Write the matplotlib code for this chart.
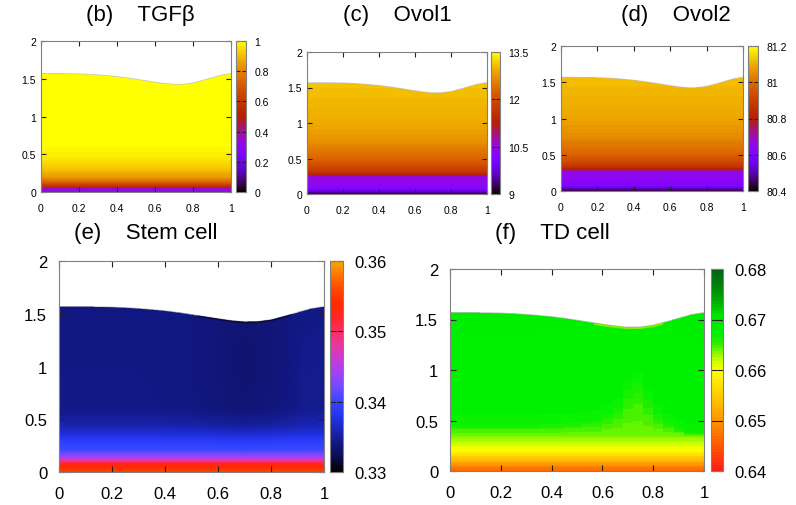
import numpy as np
import matplotlib
matplotlib.use("Agg")
import matplotlib.pyplot as plt
from matplotlib.colors import LinearSegmentedColormap
from matplotlib.patches import Polygon

plt.rcParams['font.family'] = ['Liberation Sans', 'DejaVu Sans']

# ---------------- data ----------------
# upper boundary of the domain
bound_x = [0.0, 0.05, 0.1, 0.15, 0.2, 0.25, 0.3, 0.35, 0.4, 0.45, 0.5,
           0.55, 0.6, 0.65, 0.7, 0.75, 0.8, 0.85, 0.9, 0.95, 1.0]
bound_h = [1.57, 1.57, 1.57, 1.568, 1.565, 1.56, 1.552, 1.542, 1.53, 1.514, 1.495,
           1.475, 1.455, 1.437, 1.426, 1.428, 1.445, 1.478, 1.515, 1.55, 1.57]

# (b) TGF-beta vertical profile
tgf_y = [0, 0.06, 0.07, 0.1, 0.14, 0.2, 0.3, 0.45, 0.6, 2.0]
tgf_v = [0.32, 0.36, 0.56, 0.64, 0.74, 0.84, 0.91, 0.965, 0.99, 1.0]

# (c) Ovol1 vertical profile
ovol1_y = [0, 0.03, 0.07, 0.15, 0.255, 0.275, 0.3, 0.4, 0.5, 0.75, 1.0, 1.5, 2.0]
ovol1_v = [9.15, 9.6, 10.15, 10.4, 10.55, 11.3, 11.6, 12.0, 12.3, 12.72, 12.92, 13.08, 13.12]

# (d) Ovol2 vertical profile
ovol2_y = [0, 0.03, 0.07, 0.15, 0.27, 0.3, 0.33, 0.4, 0.5, 0.75, 1.0, 1.5, 2.0]
ovol2_v = [80.43, 80.5, 80.6, 80.64, 80.66, 80.8, 80.86, 80.92, 80.98, 81.05, 81.09, 81.12, 81.13]

# (e) Stem cell vertical profile and darker zone around x = 0.7
stem_y = [0, 0.03, 0.085, 0.1, 0.13, 0.16, 0.2, 0.29, 0.36, 0.45, 0.6, 2.0]
stem_v = [0.3555, 0.3545, 0.3525, 0.349, 0.3455, 0.343, 0.3405, 0.339, 0.3372, 0.3355, 0.3343, 0.334]
stem_dark_x = [0, 0.3, 0.5, 0.6, 0.7, 0.78, 0.86, 0.92, 1.0]
stem_dark_v = [0, 0, -0.0002, -0.0005, -0.0008, -0.0006, -0.0002, 0.0002, 0.0003]
stem_dark_wy = [0, 0.25, 0.45, 0.8, 1.1, 1.4, 2.0]
stem_dark_w = [0, 0.2, 0.8, 1, 1, 0.7, 0.7]

# (f) TD cell vertical profile and height where green starts, per column
td_y = [0, 0.05, 0.1, 0.15, 0.2, 0.25, 0.3, 0.35, 0.4, 0.45, 2.0]
td_v = [0.6465, 0.649, 0.653, 0.656, 0.6595, 0.6613, 0.6625, 0.6638, 0.665, 0.6668, 0.668]
td_onset = [0.45, 0.45, 0.45, 0.45, 0.45, 0.45, 0.45, 0.45, 0.45, 0.46, 0.46, 0.47,
            0.48, 0.49, 0.50, 0.55, 0.63, 0.80, 0.88, 0.70, 0.55, 0.47, 0.42, 0.37, 0.37]

x_ticks = [0, 0.2, 0.4, 0.6, 0.8, 1.0]
x_tick_labels = ['0', '0.2', '0.4', '0.6', '0.8', '1']
y_ticks = [0, 0.5, 1.0, 1.5, 2.0]
y_tick_labels = ['0', '0.5', '1', '1.5', '2']

cb_b_ticks = [0, 0.2, 0.4, 0.6, 0.8, 1.0]
cb_b_labels = ['0', '0.2', '0.4', '0.6', '0.8', '1']
cb_c_ticks = [9, 10.5, 12, 13.5]
cb_c_labels = ['9', '10.5', '12', '13.5']
cb_d_ticks = [80.4, 80.6, 80.8, 81.0, 81.2]
cb_d_labels = ['80.4', '80.6', '80.8', '81', '81.2']
cb_e_ticks = [0.33, 0.34, 0.35, 0.36]
cb_e_labels = ['0.33', '0.34', '0.35', '0.36']
cb_f_ticks = [0.64, 0.65, 0.66, 0.67, 0.68]
cb_f_labels = ['0.64', '0.65', '0.66', '0.67', '0.68']

titles = ['(b)    TGFβ', '(c)    Ovol1', '(d)    Ovol2', '(e)    Stem cell', '(f)    TD cell']

# ---------------- colormaps ----------------
gnu = plt.get_cmap('gnuplot').resampled(96)

def anchored(name, anchors, vmin, vmax, n):
    pts = [((v - vmin) / (vmax - vmin), tuple(c / 255 for c in col)) for v, col in anchors]
    return LinearSegmentedColormap.from_list(name, pts).resampled(n)

stem_cmap = anchored('stem', [
    (0.330, (0, 0, 0)), (0.332, (12, 12, 75)), (0.334, (17, 23, 128)),
    (0.336, (26, 38, 185)), (0.338, (36, 52, 240)), (0.340, (55, 70, 255)),
    (0.342, (110, 75, 255)), (0.344, (160, 65, 248)), (0.346, (200, 58, 215)),
    (0.348, (232, 55, 160)), (0.350, (250, 45, 100)), (0.352, (255, 38, 40)),
    (0.354, (255, 42, 0)), (0.356, (255, 70, 0)), (0.358, (255, 115, 0)),
    (0.360, (255, 165, 0))], 0.33, 0.36, 256)

td_cmap = anchored('td', [
    (0.640, (255, 30, 20)), (0.645, (255, 90, 0)), (0.650, (255, 150, 0)),
    (0.655, (255, 205, 0)), (0.660, (255, 255, 0)), (0.662, (200, 255, 0)),
    (0.664, (110, 245, 0)), (0.6655, (40, 240, 0)), (0.667, (0, 242, 0)),
    (0.671, (0, 228, 0)), (0.674, (0, 170, 0)), (0.677, (0, 130, 10)),
    (0.680, (0, 100, 20))], 0.64, 0.68, 64)

# ---------------- fields ----------------
xe = np.linspace(0, 1, 201)
ye = np.linspace(0, 2, 401)
xc = 0.5 * (xe[:-1] + xe[1:])
yc = 0.5 * (ye[:-1] + ye[1:])
XC, YC = np.meshgrid(xc, yc)

tgf = np.interp(YC, tgf_y, tgf_v)
ov1 = np.interp(YC, ovol1_y, ovol1_v)
ov2 = np.interp(YC, ovol2_y, ovol2_v)
stem = (np.interp(YC, stem_y, stem_v)
        + np.interp(XC, stem_dark_x, stem_dark_v) * np.interp(YC, stem_dark_wy, stem_dark_w))

xe_td = np.linspace(0, 1, len(td_onset) + 1)
ye_td = np.linspace(0, 2, 161)
xc_td = 0.5 * (xe_td[:-1] + xe_td[1:])
yc_td = 0.5 * (ye_td[:-1] + ye_td[1:])
XT, YT = np.meshgrid(xc_td, yc_td)
ON = np.array(td_onset)[None, :] * np.ones_like(YT)
Yeff = np.where(YT < 0.35, YT,
                np.where(YT < ON, 0.35 + (YT - 0.35) * 0.085 / (ON - 0.35), YT - ON + 0.45))
td = np.interp(Yeff, td_y, td_v)

bx_f = np.linspace(0, 1, 201)
bh_f = np.interp(bx_f, bound_x, bound_h)

# ---------------- figure ----------------
W, H = 796, 506
fig = plt.figure(figsize=(W / 100, H / 100), dpi=100)

def frac(l, t, r, b):
    return [l / W, 1 - b / H, (r - l) / W, (b - t) / H]

def panel(box, cbox, xe_, ye_, Z, cmap, vmin, vmax, cticks, clabels, small):
    ax = fig.add_axes(frac(*box))
    m = ax.pcolormesh(xe_, ye_, Z, cmap=cmap, vmin=vmin, vmax=vmax,
                      shading='flat', antialiased=False, linewidth=0, rasterized=True)
    verts = np.column_stack([np.r_[bx_f, 1.0, 0.0], np.r_[bh_f, 0.0, 0.0]])
    clip = Polygon(verts, closed=True, transform=ax.transData, fc='none', ec='none')
    ax.add_patch(clip)
    m.set_clip_path(clip)
    ax.plot(bx_f, bh_f, color='#c0c0c0', lw=0.5)
    ax.set_xlim(0, 1)
    ax.set_ylim(0, 2)
    ax.set_xticks(x_ticks, x_tick_labels)
    ax.set_yticks(y_ticks, y_tick_labels)
    fs = 7.5 if small else 12
    ax.tick_params(direction='in', top=True, right=True, length=3.5 if small else 4.5,
                   width=0.8, color='#202020', labelsize=fs)
    ax.tick_params(axis='x', pad=8 if small else 10)
    ax.tick_params(axis='y', pad=3.5 if small else 8.5)
    for s in ax.spines.values():
        s.set_edgecolor('#808080')
        s.set_linewidth(0.8)
    cax = fig.add_axes(frac(*cbox))
    cb = fig.colorbar(m, cax=cax, ticks=cticks)
    cb.set_ticklabels(clabels)
    cb.outline.set_edgecolor('#808080')
    cb.outline.set_linewidth(0.8)
    cax.tick_params(axis='y', direction='in', left=True, right=True, labelleft=False,
                    labelright=True, length=3 if small else 4, width=0.8,
                    color='#202020', labelsize=fs, pad=6 if small else 8)
    return ax

ax_b = panel((41, 42, 231, 193), (236, 42, 246, 193), xe, ye, tgf, gnu, 0, 1,
             cb_b_ticks, cb_b_labels, True)
ax_c = panel((307, 53, 487, 195), (491, 53, 500, 195), xe, ye, ov1, gnu, 9, 13.5,
             cb_c_ticks, cb_c_labels, True)
ax_d = panel((561, 47, 743, 192), (748, 47, 758, 192), xe, ye, ov2, gnu, 80.4, 81.2,
             cb_d_ticks, cb_d_labels, True)
ax_e = panel((59, 262, 324, 473), (330, 262, 343, 473), xe, ye, stem, stem_cmap, 0.33, 0.36,
             cb_e_ticks, cb_e_labels, False)
ax_f = panel((450, 270, 704, 472), (711, 270, 723, 472), xe_td, ye_td, td, td_cmap, 0.64, 0.68,
             cb_f_ticks, cb_f_labels, False)

# darker rim in (e) and lighter rim in (f) along the dip of the boundary
sel = (bx_f > 0.52) & (bx_f < 0.88)
ax_e.plot(bx_f[sel], bh_f[sel] - 0.008, color='#05052a', lw=1.1, alpha=0.8)
sel2 = (bx_f > 0.57) & (bx_f < 0.84)
ax_f.plot(bx_f[sel2], bh_f[sel2] - 0.012, color='#90ea00', lw=1.3)

title_pos = [(140, 15), (397, 15), (676, 15), (146, 233), (552, 233)]
for t, (px, py) in zip(titles, title_pos):
    fig.text(px / W, 1 - py / H, t, ha='center', va='center', fontsize=16)

fig.savefig('out.png', dpi=100, facecolor='white')
